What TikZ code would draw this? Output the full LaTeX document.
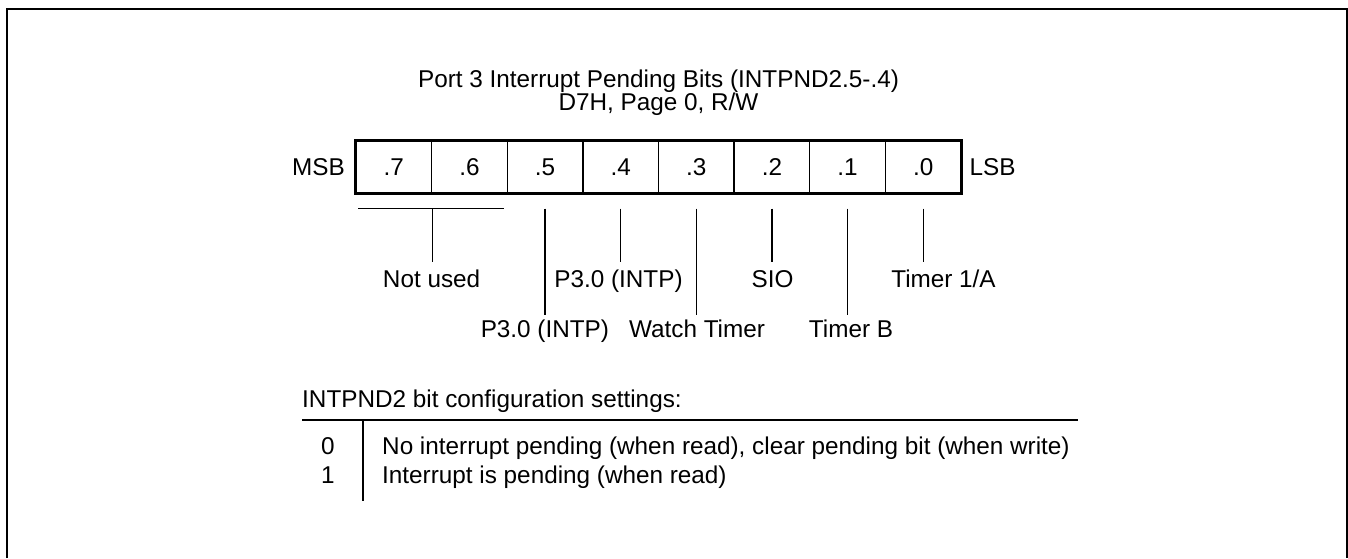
\documentclass[tikz,border=0pt]{standalone}
\usepackage{fontspec}
\setmainfont{Liberation Sans}
\begin{document}
\begin{tikzpicture}[x=1pt,y=-1pt,
  every node/.style={font=\fontsize{24.3}{29}\selectfont},
  cell/.style={draw,line width=1.3pt,minimum width=75.625pt,minimum height=52pt,inner sep=0pt,anchor=center},
  txt/.style={inner sep=0pt,anchor=base},
  uplab/.style={anchor=base,inner xsep=0pt,inner ysep=7.5pt,text height=17.5pt,text depth=5pt},
  lowlab/.style={anchor=base,inner xsep=0pt,inner ysep=4.5pt,text height=17.5pt,text depth=5pt},
  lead/.style={line width=1.3pt},
  frame/.style={line width=2pt}]
\useasboundingbox (0,0) rectangle (1348,558);
% outer frame
\draw[frame] (7,558) -- (7,9) -- (1347,9) -- (1347,558);
% title
\node[txt] (t1) at (658.5,87) {Port 3 Interrupt Pending Bits (INTPND2.5-.4)};
\node[txt] (t2) at (658.5,110) {D7H, Page 0, R/W};
% register
\foreach \b in {7,6,5,4,3,2,1,0}
  \node[cell] (b\b) at ({356+75.625*(7-\b)+37.8125},167) {.\b};
\draw[frame] (b7.north west) rectangle (b0.south east);
\node[inner sep=0pt] (msb) at (318.5,167) {MSB};
\node[inner sep=0pt] (lsb) at (992.5,167) {LSB};
% labels
\node[uplab] (nu) at (431.6,287) {Not used};
\node[lowlab] (l5) at (544.9,337) {P3.0 (INTP)};
\node[uplab] (l4) at (618.5,287) {P3.0 (INTP)};
\node[lowlab] (l3) at (697,337) {Watch Timer};
\node[uplab] (l2) at (772.5,287) {SIO};
\node[lowlab] (l1) at (851,337) {Timer B};
\node[uplab] (l0) at (943.5,287) {Timer 1/A};
% leaders
\draw[lead] ([xshift=3pt,yshift=-15pt]b7.south west) -- ([xshift=-4pt,yshift=-15pt]b6.south east);
\draw[lead] ([yshift=-15pt]b7.south east) -- (b7.south east |- nu.north);
\draw[lead] ([yshift=-15pt]b5.south) -- (b5.south |- l5.north);
\draw[lead] ([yshift=-15pt]b4.south) -- (b4.south |- l4.north);
\draw[lead] ([yshift=-15pt]b3.south) -- (b3.south |- l3.north);
\draw[lead] ([yshift=-15pt]b2.south) -- (b2.south |- l2.north);
\draw[lead] ([yshift=-15pt]b1.south) -- (b1.south |- l1.north);
\draw[lead] ([yshift=-15pt]b0.south) -- (b0.south |- l0.north);
% table
\node[txt,anchor=base west] (cfg) at (302,407) {INTPND2 bit configuration settings:};
\coordinate (tl) at (302,420);
\coordinate (tr) at (1078,420);
\coordinate (vt) at (363,420);
\coordinate (vb) at (363,501);
\draw[frame] (tl) -- (tr);
\draw[line width=1.5pt] (vt) -- (vb);
\node[txt] (z0) at (328,454) {0};
\node[txt] (z1) at (328,483) {1};
\node[txt,anchor=base west] (d0) at (382,454) {No interrupt pending (when read), clear pending bit (when write)};
\node[txt,anchor=base west] (d1) at (382,483) {Interrupt is pending (when read)};
\end{tikzpicture}
\end{document}
